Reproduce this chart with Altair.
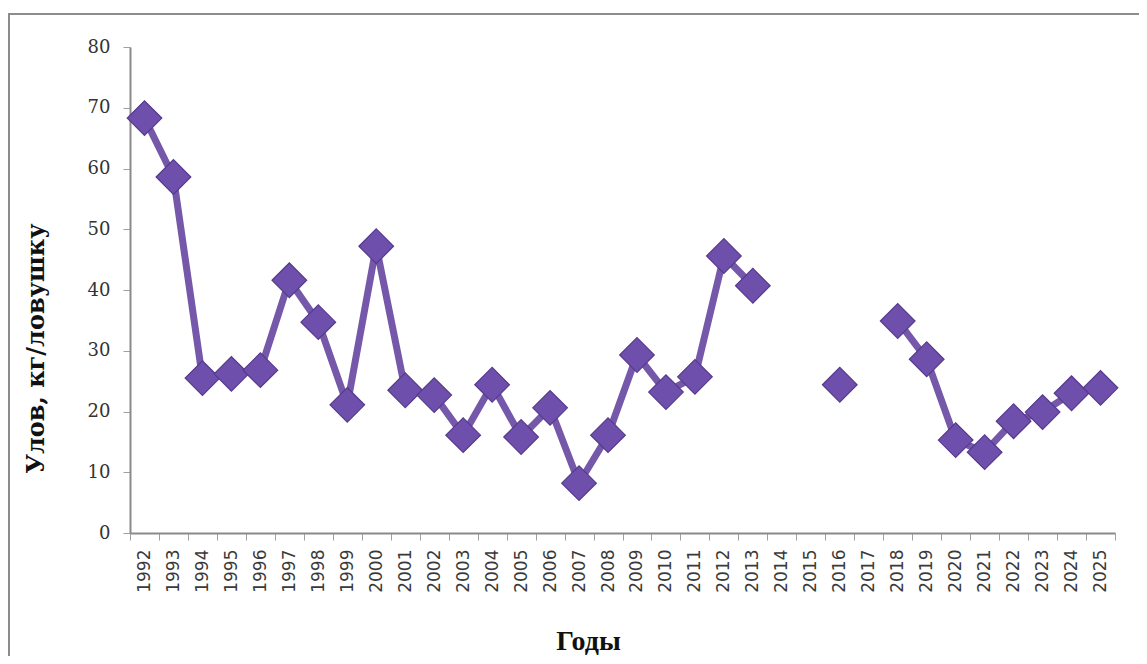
import altair as alt
import pandas as pd

years = [str(y) for y in range(1992, 2026)]
values = [68.3, 58.6, 25.5, 26.2, 26.8, 41.6, 34.7, 21.1, 47.2, 23.5,
          22.7, 16.1, 24.4, 15.8, 20.6, 8.2, 16.1, 29.3, 23.2, 25.7,
          45.6, 40.7, None, None, 24.4, None, 34.9, 28.6, 15.3, 13.3,
          18.4, 19.9, 23.0, 23.9]

df = pd.DataFrame({"Год": years, "Улов": values})

W, H = 985, 486
PL, PT, PR, PB = 122, 39, 24, 123

x_enc = alt.X("Год:N", sort=years,
              scale=alt.Scale(type="band", domain=years, paddingInner=0, paddingOuter=0),
              axis=alt.Axis(title="Годы", labelAngle=-90, labelAlign="right", labelBaseline="middle",
                            labelFont="DejaVu Sans", labelFontSize=17, labelColor="#3a3a3a",
                            labelPadding=9, tickBand="extent", tickSize=7, tickColor="#a0a0a0",
                            domainColor="#8a8a8a", domainWidth=2, grid=False,
                            titleFont="Liberation Serif", titleFontSize=28, titleFontWeight="bold",
                            titleColor="#111111", titleX=458, titleY=108, titleBaseline="middle",
                            titleAlign="center"))
y_enc = alt.Y("Улов:Q",
              scale=alt.Scale(domain=[0, 80], nice=False),
              axis=alt.Axis(title="Улов, кг/ловушку", values=list(range(0, 81, 10)), grid=False,
                            labelFont="DejaVu Serif", labelFontSize=18, labelColor="#333333",
                            labelPadding=13, tickSize=7, tickColor="#a0a0a0",
                            domainColor="#8a8a8a", domainWidth=2,
                            titleFont="DejaVu Serif", titleFontSize=24, titleFontWeight="bold",
                            titleColor="#111111", titleX=-94, titleY=301, titleBaseline="middle",
                            titleAlign="center", titleAngle=-90))

line = alt.Chart(df).mark_line(color="#7558aa", strokeWidth=7).encode(x=x_enc, y=y_enc)
pts = alt.Chart(df).mark_point(shape="diamond", filled=True, size=1200, color="#6f4fac",
                               stroke="#553a8c", strokeWidth=1.2, opacity=1).encode(x=x_enc, y=y_enc)

frame = alt.Chart(df).mark_rect(fillOpacity=0, stroke="#8c8c8c", strokeWidth=2).encode(
    x=alt.value(-121), x2=alt.value(W + PR + 40), y=alt.value(-33), y2=alt.value(H + PB + 40))

chart = alt.layer(frame, line, pts).properties(
    width=W, height=H,
    background="white",
    autosize=alt.AutoSizeParams(type="none"),
    padding={"left": PL, "top": PT, "right": PR, "bottom": PB},
).configure_view(stroke=None, strokeWidth=0).configure_axis(grid=False)

chart.save("out.html", embed_options={"renderer": "svg", "actions": False})
